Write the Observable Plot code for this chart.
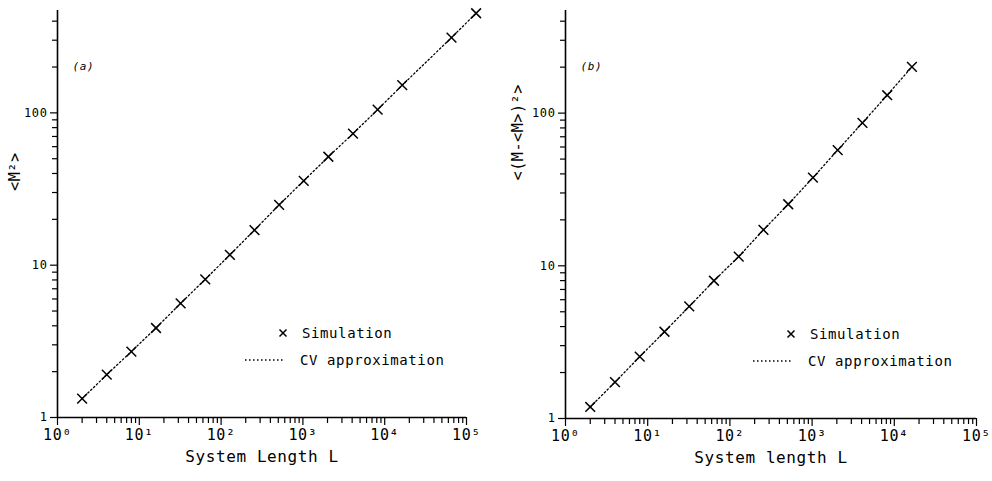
<!DOCTYPE html>
<html>
<head>
<meta charset="utf-8">
<script src="https://cdn.jsdelivr.net/npm/d3@7"></script>
<script src="https://cdn.jsdelivr.net/npm/@observablehq/plot@0.6"></script>
<style>
  html, body { margin: 0; padding: 0; background: white; }
  #wrap { display: flex; flex-direction: row; width: 992px; height: 481px; }
  svg text { letter-spacing: 0.6px; }
</style>
</head>
<body>
<div id="wrap"></div>
<script>
// Panel (a): <M^2> vs system length L
const lengthsA = [2, 4, 8, 16, 32, 64, 128, 256, 512, 1024, 2048, 4096, 8192, 16384, 65536, 131072];
const msqA     = [1.33, 1.91, 2.71, 3.87, 5.62, 8.07, 11.7, 17.0, 24.9, 35.8, 51.5, 73.1, 105, 152, 312, 451];
// Panel (b): <(M-<M>)^2> vs system length L
const lengthsB = [2, 4, 8, 16, 32, 64, 128, 256, 512, 1024, 2048, 4096, 8192, 16384];
const varB     = [1.19, 1.73, 2.54, 3.70, 5.42, 7.98, 11.5, 17.2, 25.3, 37.8, 57.3, 86.4, 131, 201];

const xMajor = [1, 10, 100, 1000, 10000, 100000];
const xMinor = [2,3,4,5,6,7,8,9,20,30,40,50,60,70,80,90,200,300,400,500,600,700,800,900,
                2000,3000,4000,5000,6000,7000,8000,9000,20000,30000,40000,50000,60000,70000,80000,90000];
const yMajor = [1, 10, 100];
const yMinor = [2,3,4,5,6,7,8,9,20,30,40,50,60,70,80,90,200,300,400];
const sup = ["\u2070","\u00B9","\u00B2","\u00B3","\u2074","\u2075"];

const legendLabels = ["Simulation", "CV approximation"];

function panel({lengths, values, ylabel, xlabel, tag, marginLeft, marginRight, marginBottom, ylabelDx, ylabelDy}) {
  const data = lengths.map((L, i) => ({L, v: values[i]}));
  const W = 496, H = 481, marginTop = 10;
  const svg = Plot.plot({
    width: W, height: H,
    marginLeft, marginRight, marginTop, marginBottom,
    x: {type: "log", domain: [1, 1e5], label: null},
    y: {type: "log", domain: [1, 470], label: null},
    style: {fontFamily: "'DejaVu Sans Mono', monospace", fontSize: "13px", background: "white", color: "black"},
    marks: [
      Plot.axisX({ticks: xMinor, tickFormat: () => "", tickSize: 6, strokeWidth: 1.2, label: null}),
      Plot.axisX({ticks: xMajor, tickFormat: d => "10" + sup[Math.round(Math.log10(d))], tickSize: 8, tickPadding: 4, fontSize: 15, strokeWidth: 1.2, label: null}),
      Plot.axisY({ticks: yMinor, tickFormat: () => "", tickSize: 5, strokeWidth: 1.2, label: null}),
      Plot.axisY({ticks: yMajor, tickFormat: d => String(d), tickSize: 7, tickPadding: 3, fontSize: 12, strokeWidth: 1.2, label: null}),
      Plot.ruleX([1], {stroke: "black", strokeWidth: 1.6}),
      Plot.ruleY([1], {stroke: "black", strokeWidth: 1.6}),
      Plot.line(data, {x: "L", y: "v", stroke: "black", strokeWidth: 1.3, strokeDasharray: "1.5,2.5"}),
      Plot.dot(data, {x: "L", y: "v", symbol: "times", r: 4.5, stroke: "black", strokeWidth: 1.5}),
      Plot.text([ylabel], {frameAnchor: "left", rotate: -90, dx: ylabelDx, dy: ylabelDy, fontSize: 15}),
      Plot.text([xlabel], {frameAnchor: "bottom", dy: 44, fontSize: 16}),
      Plot.text([tag], {frameAnchor: "top-left", dx: 15, dy: 52, fontSize: 11, fontStyle: "italic", textAnchor: "start"})
    ]
  });
  // Legend inside the frame (lower right)
  const fx = marginLeft, fy = H - marginBottom;
  const g = d3.select(svg).append("g")
    .attr("font-family", "'DejaVu Sans Mono', monospace").attr("font-size", 14)
    .attr("text-anchor", "start");
  const sx = fx + 226, sy = fy - 84;
  g.append("path").attr("d", `M${sx-3.5},${sy-3.5}L${sx+3.5},${sy+3.5}M${sx-3.5},${sy+3.5}L${sx+3.5},${sy-3.5}`)
    .attr("stroke", "black").attr("stroke-width", 1.5);
  g.append("text").attr("x", fx + 245).attr("y", sy).attr("dy", "0.35em").text(legendLabels[0]);
  const ly = fy - 57;
  g.append("line").attr("x1", fx + 188).attr("x2", fx + 226).attr("y1", ly).attr("y2", ly)
    .attr("stroke", "black").attr("stroke-width", 1.3).attr("stroke-dasharray", "1.5,2.5");
  g.append("text").attr("x", fx + 243).attr("y", ly).attr("dy", "0.35em").text(legendLabels[1]);
  return svg;
}

const wrap = document.getElementById("wrap");
wrap.appendChild(panel({
  lengths: lengthsA, values: msqA, ylabel: "<M\u00B2>", xlabel: "System Length L", tag: "(a)",
  marginLeft: 57, marginRight: 30, marginBottom: 64, ylabelDx: -42, ylabelDy: -23
}));
wrap.appendChild(panel({
  lengths: lengthsB, values: varB, ylabel: "<(M-<M>)\u00B2>", xlabel: "System length L", tag: "(b)",
  marginLeft: 69, marginRight: 16, marginBottom: 63, ylabelDx: -47, ylabelDy: -34
}));
</script>
</body>
</html>
